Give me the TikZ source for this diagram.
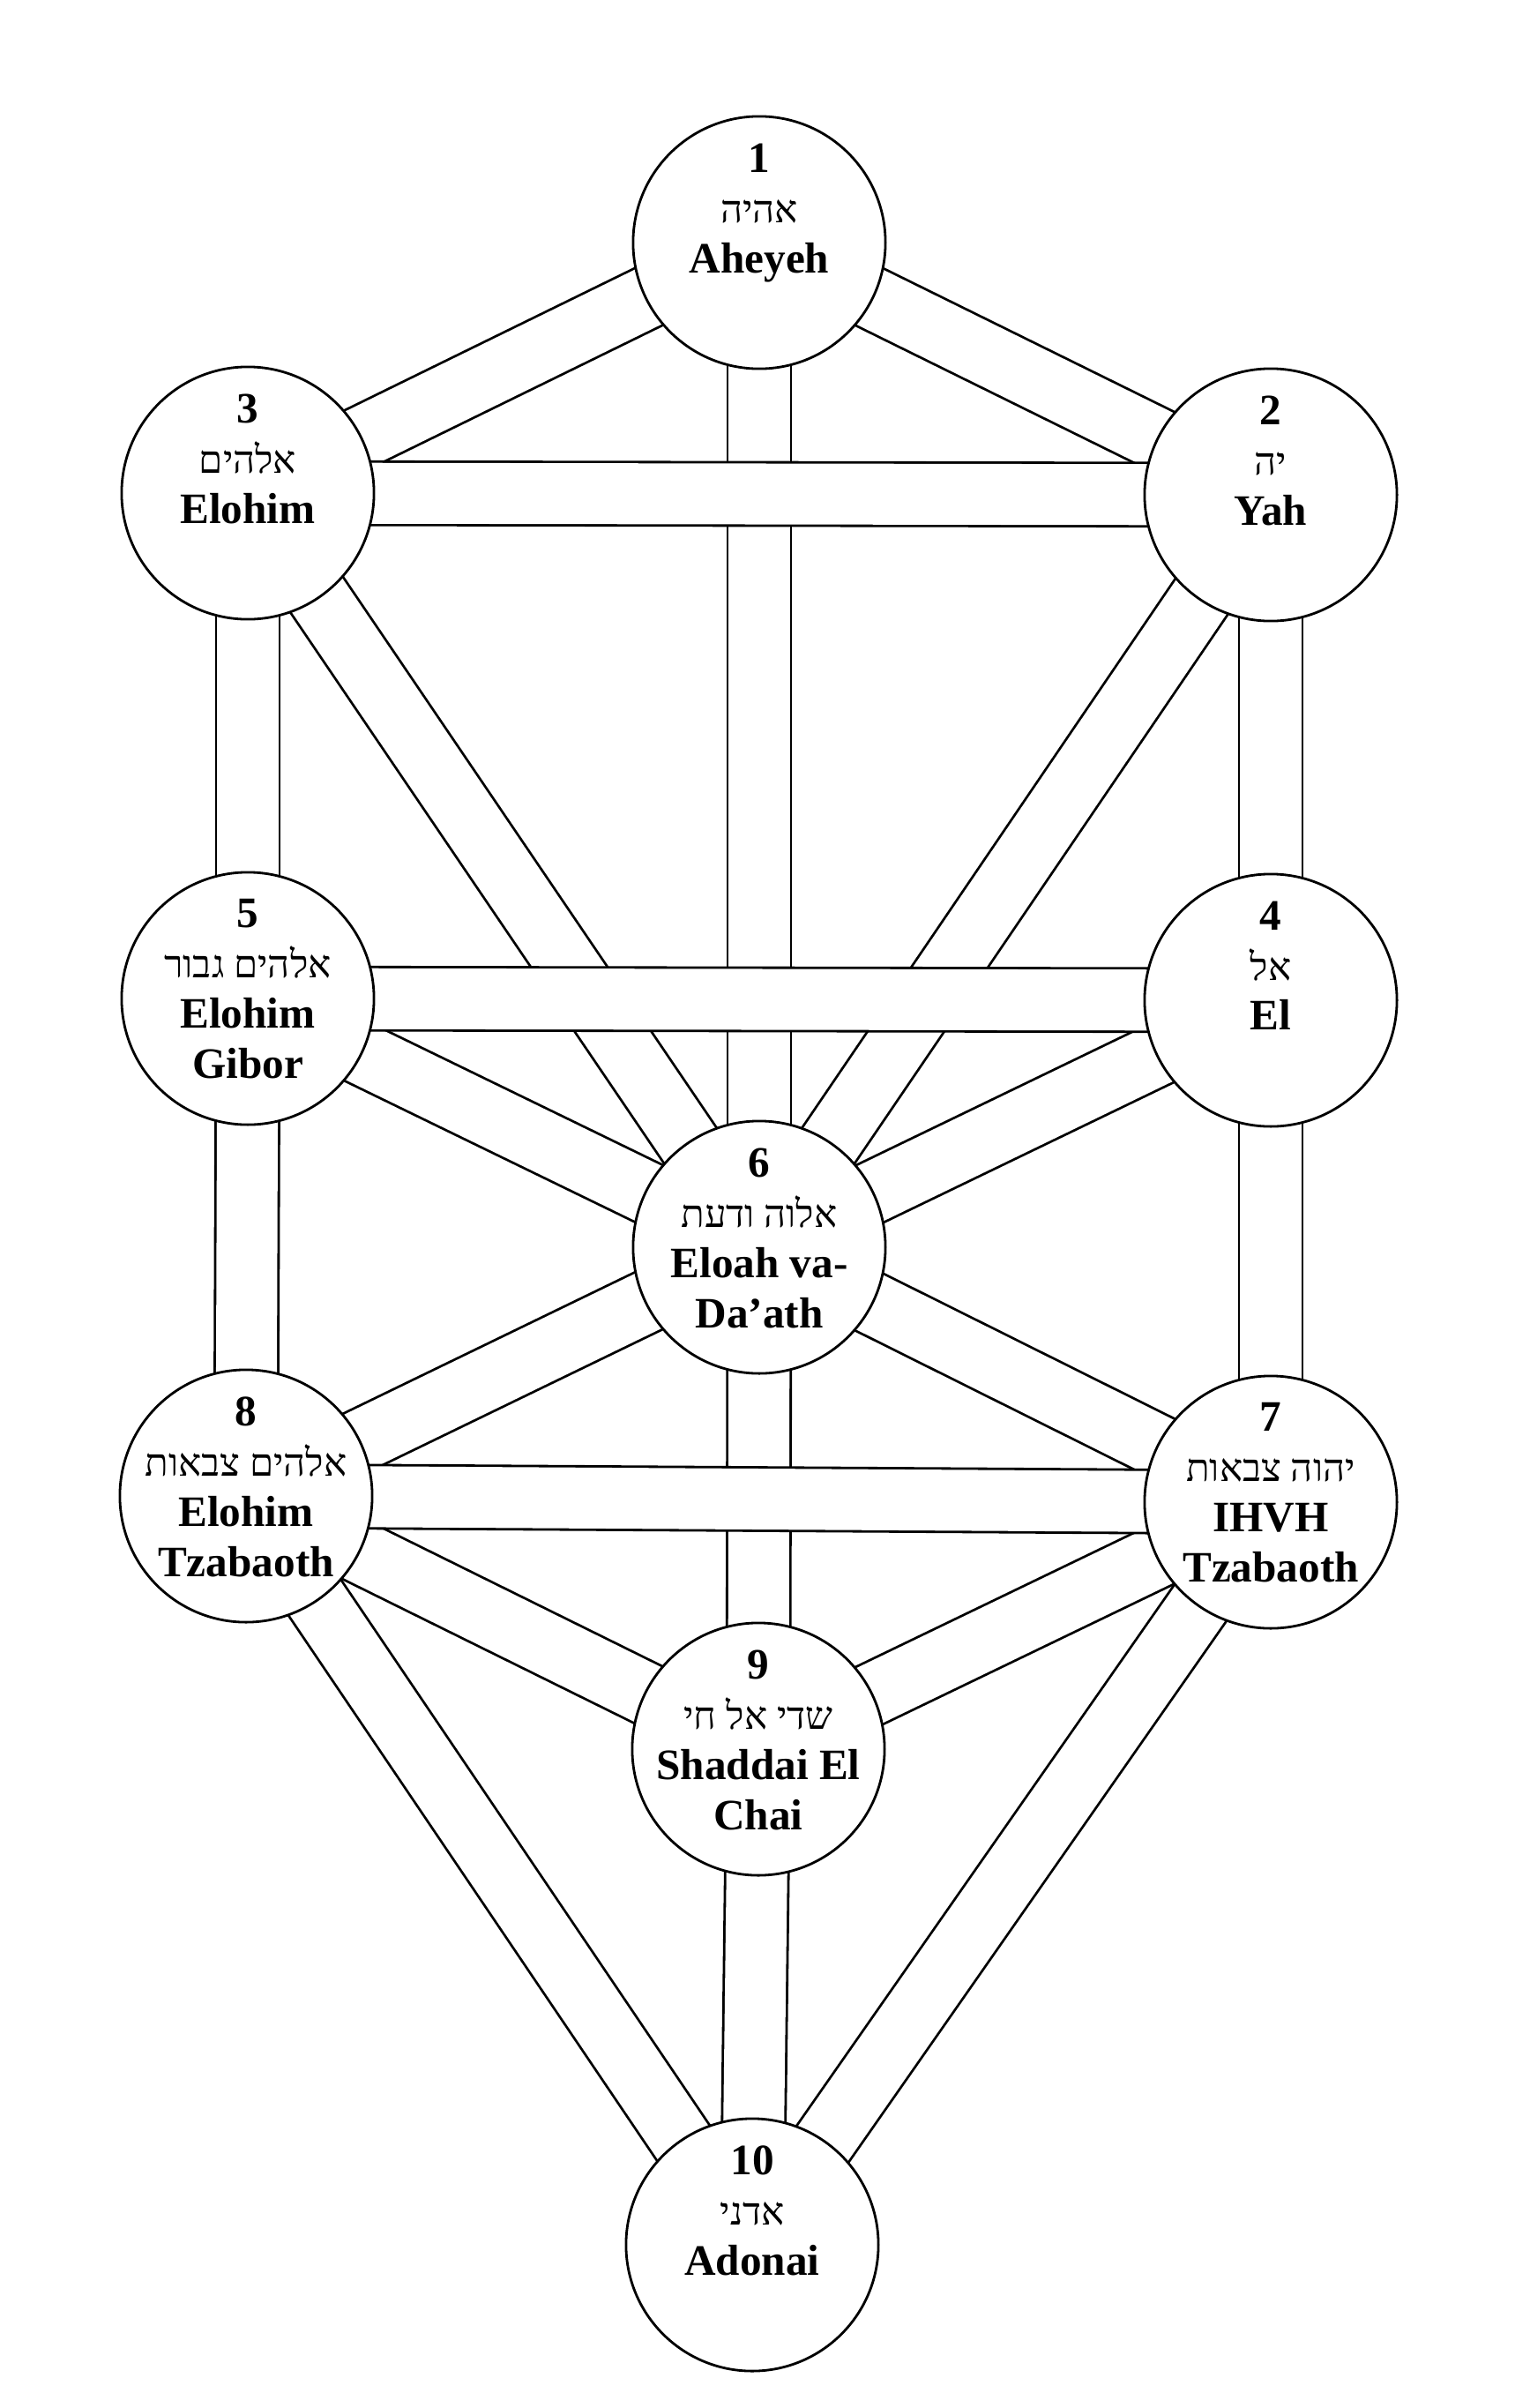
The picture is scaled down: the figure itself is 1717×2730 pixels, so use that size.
\documentclass[tikz,border=0pt]{standalone}
\usepackage{fontspec}
\setmainfont{Liberation Serif}
\newfontfamily\hebfont[Script=Hebrew]{Liberation Serif}
\TeXXeTstate=1
\newcommand{\heb}[1]{{\hebfont\mdseries\fontsize{12.4pt}{16.2pt}\selectfont\beginR #1\endR}}
\pgfdeclarelayer{back}
\pgfsetlayers{back,main}
\tikzset{
	sefira/.style={circle,draw,fill=white,line width=0.8pt,minimum size=2.86cm,inner sep=0pt},
	channel/.style={draw,line width=0.8pt,double=white,double distance=0.69cm},
	title/.style={font=\fontsize{14pt}{16.2pt}\selectfont\bfseries,align=center,inner sep=0pt,anchor=north}
}

\begin{document}
\begin{tikzpicture}[x=0.01cm,y=-0.01cm]
	\useasboundingbox (0,0) rectangle (1717,2730);
	% the ten circles
	\node[sefira] (s1) at (861,275) {};
	\node[sefira] (s2) at (1441,561) {};
	\node[sefira] (s3) at (281,559) {};
	\node[sefira] (s4) at (1441,1134) {};
	\node[sefira] (s5) at (281,1132) {};
	\node[sefira] (s6) at (861,1414) {};
	\node[sefira] (s7) at (1441,1703) {};
	\node[sefira] (s8) at (279,1696) {};
	\node[sefira] (s9) at (860,1983) {};
	\node[sefira] (s10) at (853,2545) {};
	% names
	\node[title] (t1) at ([yshift=1.13cm]s1.center) {1\\\heb{אהיה}\\Aheyeh};
	\node[title] (t2) at ([yshift=1.13cm]s2.center) {2\\\heb{יה}\\Yah};
	\node[title] (t3) at ([yshift=1.13cm]s3.center) {3\\\heb{אלהים}\\Elohim};
	\node[title] (t4) at ([yshift=1.13cm]s4.center) {4\\\heb{אל}\\El};
	\node[title] (t5) at ([yshift=1.13cm]s5.center) {5\\\heb{אלהים גבור}\\Elohim\\Gibor};
	\node[title] (t6) at ([yshift=1.13cm]s6.center) {6\\\heb{אלוה ודעת}\\Eloah va-\\Da’ath};
	\node[title] (t7) at ([yshift=1.13cm]s7.center) {7\\\heb{יהוה צבאות}\\IHVH\\Tzabaoth};
	\node[title] (t8) at ([yshift=1.13cm]s8.center) {8\\\heb{אלהים צבאות}\\Elohim\\Tzabaoth};
	\node[title] (t9) at ([yshift=1.13cm]s9.center) {9\\\heb{שדי אל חי}\\Shaddai El\\Chai};
	\node[title] (t10) at ([yshift=1.13cm]s10.center) {10\\\heb{אדני}\\Adonai};
	% the paths, behind the circles; level ones last
	\begin{pgfonlayer}{back}
		\foreach \a/\b in {1/2,1/3,1/6,3/5,2/4,3/6,2/6,5/6,4/6,5/8,4/7,6/8,6/7,6/9,8/9,7/9,8/10,7/10,9/10}{
			\draw[channel] (s\a.center) -- (s\b.center);}
		\foreach \a/\b in {3/2,5/4,8/7}{
			\draw[channel] (s\a.center) -- (s\b.center);}
	\end{pgfonlayer}
\end{tikzpicture}
\end{document}
